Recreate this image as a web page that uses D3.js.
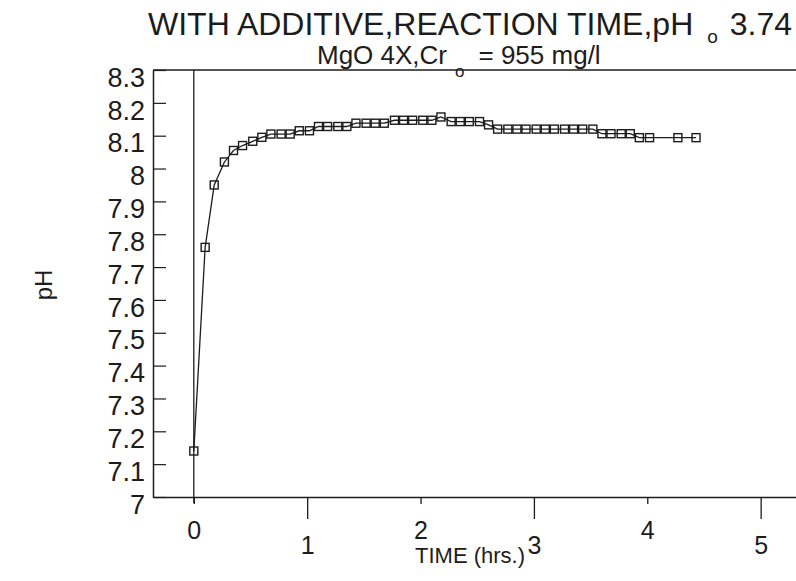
<!DOCTYPE html>
<html>
<head>
<meta charset="utf-8">
<script src="https://cdn.jsdelivr.net/npm/d3@7"></script>
<style>
body{margin:0;background:#fff}
svg{display:block}
text{font-family:"Liberation Sans",Arial,sans-serif;fill:#1c1c1c}
</style>
</head>
<body>
<svg></svg>
<script>
// reaction time in hours, pH
var times = [0,
  0.10, 0.18, 0.27, 0.35, 0.43, 0.52, 0.60, 0.68, 0.77, 0.85,
  0.93, 1.02, 1.10, 1.18, 1.27, 1.35, 1.43, 1.52, 1.60, 1.68,
  1.77, 1.85, 1.93, 2.02, 2.10, 2.18, 2.27, 2.35, 2.43, 2.52,
  2.60, 2.68, 2.77, 2.85, 2.93, 3.02, 3.10, 3.18, 3.27, 3.35,
  3.43, 3.52, 3.60, 3.68, 3.77, 3.85, 3.93, 4.02,
  4.27, 4.43]
var phValues = [7.14,
  7.76, 7.95, 8.02, 8.055, 8.07, 8.083, 8.095, 8.105, 8.105, 8.105,
  8.115, 8.115, 8.128, 8.128, 8.128, 8.128, 8.138, 8.138, 8.138, 8.138,
  8.147, 8.147, 8.147, 8.147, 8.147, 8.157, 8.143, 8.143, 8.143, 8.143,
  8.133, 8.12, 8.12, 8.12, 8.12, 8.12, 8.12, 8.12, 8.12, 8.12,
  8.12, 8.12, 8.106, 8.106, 8.106, 8.106, 8.094, 8.094,
  8.094, 8.094]
var yTicks = [7, 7.1, 7.2, 7.3, 7.4, 7.5, 7.6, 7.7, 7.8, 7.9, 8, 8.1, 8.2, 8.3]
var xTicks = [0, 1, 2, 3, 4, 5]

var screen = {width: 796, height: 581}
var ink = "#1c1c1c"

var svg = d3.select("svg")
  .attr("width", screen.width)
  .attr("height", screen.height)

var xScale = d3.scaleLinear()
  .domain([-0.36, 5.4])
  .range([153, 806])
var yScale = d3.scaleLinear()
  .domain([7, 8.3])
  .range([497, 70])

// top frame line
svg.append("line")
  .attr("x1", xScale(-0.36)).attr("x2", xScale(5.4))
  .attr("y1", yScale(8.3)).attr("y2", yScale(8.3))
  .attr("stroke", ink).attr("stroke-width", 1.5)

// zero line at t = 0
svg.append("line")
  .attr("x1", xScale(0)).attr("x2", xScale(0))
  .attr("y1", yScale(8.3)).attr("y2", yScale(7) + 6)
  .attr("stroke", ink).attr("stroke-width", 1.3)

var yAxis = d3.axisLeft(yScale)
  .tickValues(yTicks)
  .tickSize(-13)
  .tickSizeOuter(0)
  .tickPadding(8)
  .tickFormat(function(d){ return String(+d.toFixed(1)) })

var yG = svg.append("g")
  .attr("transform", "translate(" + xScale(-0.36) + ",0)")
  .call(yAxis)
yG.select(".domain").attr("stroke", ink).attr("stroke-width", 1.5)
yG.selectAll(".tick line").attr("stroke", ink).attr("stroke-width", 1.2)
yG.selectAll(".tick text")
  .attr("font-size", 27)
  .attr("dy", "0.6em")
  .style("font-family", "'Liberation Sans',Arial,sans-serif")
  .attr("fill", ink)

var xAxis = d3.axisBottom(xScale)
  .tickValues(xTicks)
  .tickSizeOuter(0)
  .tickFormat(d3.format("d"))

var xG = svg.append("g")
  .attr("transform", "translate(0," + yScale(7) + ")")
  .call(xAxis)
xG.select(".domain").attr("stroke", ink).attr("stroke-width", 1.5)
xG.selectAll(".tick line")
  .attr("stroke", ink).attr("stroke-width", 1.3)
  .attr("y2", function(d){ return d % 2 ? 22 : 7 })
xG.selectAll(".tick text")
  .attr("font-size", 25)
  .attr("dy", 0)
  .attr("y", function(d){ return d % 2 ? 57 : 42 })
  .style("font-family", "'Liberation Sans',Arial,sans-serif")
  .attr("fill", ink)

// data line + square markers
var lineGenerator = d3.line()
  .x(function(d, i){ return xScale(times[i]) })
  .y(function(d){ return yScale(d) })

svg.append("path")
  .datum(phValues)
  .attr("d", lineGenerator)
  .attr("fill", "none")
  .attr("stroke", ink)
  .attr("stroke-width", 1.3)

svg.selectAll("rect.pt")
  .data(phValues)
  .enter()
  .append("rect")
  .classed("pt", true)
  .attr("x", function(d, i){ return xScale(times[i]) - 4 })
  .attr("y", function(d){ return yScale(d) - 4 })
  .attr("width", 8)
  .attr("height", 8)
  .attr("fill", "none")
  .attr("stroke", ink)
  .attr("stroke-width", 1.4)

// titles
var title = svg.append("text")
  .attr("x", 148).attr("y", 35)
  .attr("font-size", 32)
title.append("tspan").text("WITH ADDITIVE,REACTION TIME,pH")
title.append("tspan").text("o").attr("font-size", 19).attr("dx", 14).attr("dy", 8)
title.append("tspan").text("3.74").attr("dx", 12).attr("dy", -8)

var sub = svg.append("text")
  .attr("x", 317).attr("y", 64)
  .attr("font-size", 26)
sub.append("tspan").text("MgO 4X,Cr")
sub.append("tspan").text("o").attr("font-size", 17).attr("dx", 8).attr("dy", 13)
sub.append("tspan").text("= 955 mg/l").attr("dx", 14).attr("dy", -13)

svg.append("text")
  .attr("x", 470).attr("y", 563)
  .attr("text-anchor", "middle")
  .attr("font-size", 22)
  .text("TIME (hrs.)")

svg.append("text")
  .attr("transform", "translate(52,285) rotate(-90)")
  .attr("text-anchor", "middle")
  .attr("font-size", 24)
  .text("pH")
</script>
</body>
</html>
